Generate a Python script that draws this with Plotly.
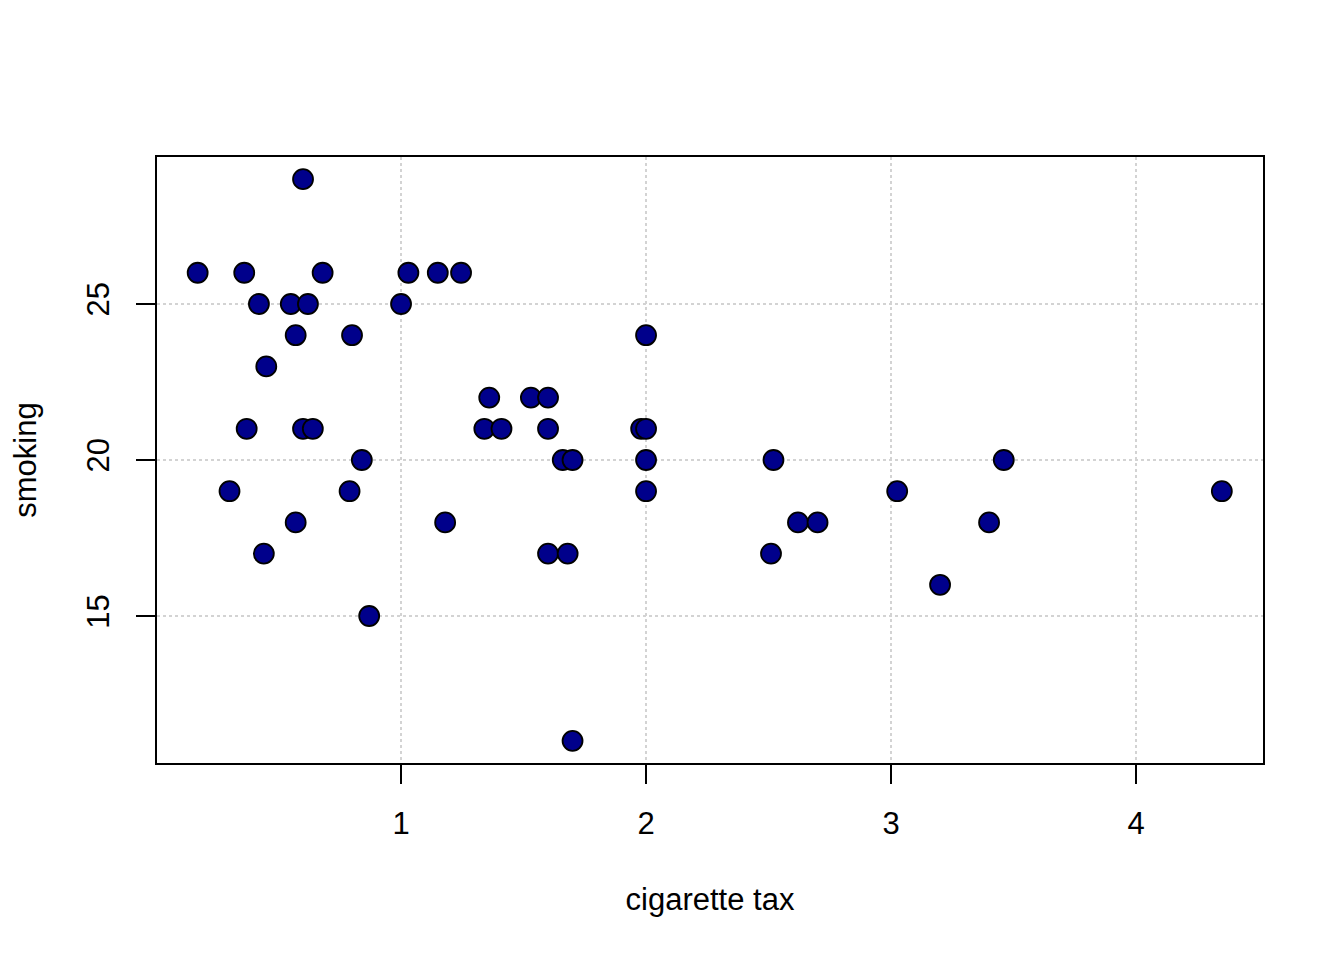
import plotly.graph_objects as go

# cigarette tax (x) and smoking rate (y)
tax = [0.60,
       0.17, 0.36, 0.68, 1.03, 1.15, 1.245,
       0.42, 0.55, 0.62, 1.00,
       0.57, 0.80, 2.00,
       0.45,
       1.36, 1.53, 1.60,
       0.37, 0.60, 0.64, 1.34, 1.41, 1.60, 1.98, 2.00,
       0.84, 1.66, 1.70, 2.00, 2.52, 3.46,
       0.30, 0.79, 2.00, 3.025, 4.35,
       0.57, 1.18, 2.62, 2.70, 3.40,
       0.44, 1.60, 1.68, 2.51,
       3.20,
       0.87,
       1.70]
smoking = [29,
           26, 26, 26, 26, 26, 26,
           25, 25, 25, 25,
           24, 24, 24,
           23,
           22, 22, 22,
           21, 21, 21, 21, 21, 21, 21, 21,
           20, 20, 20, 20, 20, 20,
           19, 19, 19, 19, 19,
           18, 18, 18, 18, 18,
           17, 17, 17, 17,
           16,
           15,
           11]

x_ticks = [1, 2, 3, 4]
y_ticks = [15, 20, 25]

font = "Liberation Sans, Arial, sans-serif"

fig = go.Figure()
fig.add_trace(go.Scatter(
    x=tax, y=smoking, mode="markers",
    marker=dict(size=20, color="#00008B", line=dict(color="black", width=1.8)),
    showlegend=False, hoverinfo="skip"))

axis_common = dict(
    showline=True, linecolor="black", linewidth=2, mirror=True,
    ticks="outside", ticklen=19, tickwidth=2, tickcolor="black",
    showgrid=True, gridcolor="#D3D3D3", griddash="dot", gridwidth=1.6,
    zeroline=False, layer="above traces", automargin=False,
    tickfont=dict(family=font, size=31, color="black"),
)

fig.update_layout(
    width=1344, height=960,
    paper_bgcolor="white", plot_bgcolor="white",
    margin=dict(l=149, r=89, t=149, b=205),
    xaxis=dict(range=[0.004, 4.518], tickvals=x_ticks, ticklabelstandoff=13,
               title=dict(text="cigarette tax", font=dict(family=font, size=31, color="black"), standoff=48),
               **axis_common),
    yaxis=dict(range=[10.29, 29.71], tickvals=y_ticks, tickangle=-90, ticklabelstandoff=15,
               title=dict(text="smoking", font=dict(family=font, size=31, color="black"), standoff=42),
               **axis_common),
)

fig.write_html("out.html")
